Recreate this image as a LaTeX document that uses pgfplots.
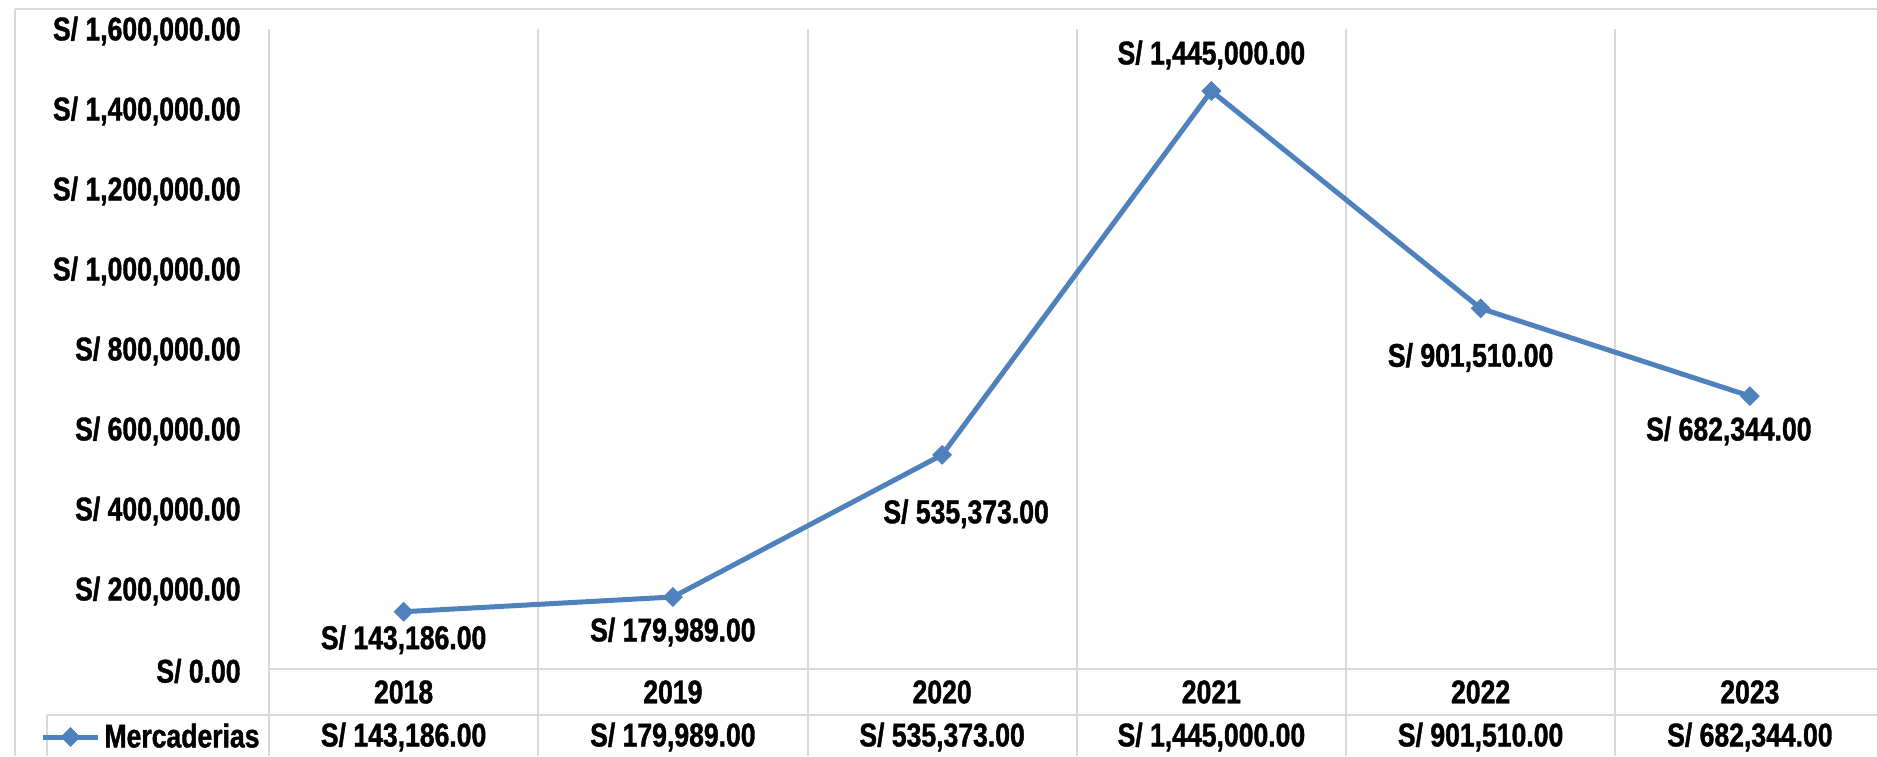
\documentclass[border=0pt]{standalone}
\usepackage{fontspec}
\setmainfont{Liberation Sans Bold}[FakeStretch=0.81, FakeBold=1.2]
\usepackage{pgfplots}
\pgfplotsset{compat=1.18}
\usepackage{pgfplotstable}
\definecolor{serie}{HTML}{4F81BD}
\definecolor{grd}{HTML}{D9D9D9}
\newcommand\cf{\fontsize{16.4}{19}\selectfont}
\pgfplotstableread{
x y dx dy
0.5 143186 0 -14
1.5 179989 0 -17.5
2.5 535373 12 -29.5
3.5 1445000 0 18
4.5 901510 -5 -24.5
5.5 682344 -10.5 -17.5
}\datatab
\begin{document}
\begin{tikzpicture}
\useasboundingbox (0,0) rectangle (938.5pt,378pt);
\clip (0,0) rectangle (938.5pt,378pt);
\begin{scope}[shift={(0pt,378pt)},x=0.5pt,y=-0.5pt]
  \draw[grd,line width=1pt] (15,9) -- (1877,9);
  \draw[grd,line width=1pt] (15,9) -- (15,756);
  \foreach \xx in {269,538.25,807.5,1076.75,1346,1615.25}
    \draw[grd,line width=1pt] (\xx,29) -- (\xx,756);
  \draw[grd,line width=1pt] (269,669) -- (1877,669);
  \draw[grd,line width=1pt] (47,715) -- (1877,715);
  \draw[grd,line width=1pt] (47,715) -- (47,756);
  \node[font=\cf,inner sep=0pt] at (403.6,737) {S/ 143,186.00};
  \node[font=\cf,inner sep=0pt] at (672.9,737) {S/ 179,989.00};
  \node[font=\cf,inner sep=0pt] at (942.1,737) {S/ 535,373.00};
  \node[font=\cf,inner sep=0pt] at (1211.4,737) {S/ 1,445,000.00};
  \node[font=\cf,inner sep=0pt] at (1480.6,737) {S/ 901,510.00};
  \node[font=\cf,inner sep=0pt] at (1749.9,737) {S/ 682,344.00};
\end{scope}
\begin{axis}[
  at={(134.5pt,43.5pt)}, anchor=south west,
  scale only axis, width=807.75pt, height=320pt,
  xmin=0, xmax=6, ymin=0, ymax=1600000,
  axis line style={draw=none}, tick style={draw=none},
  clip=false,
  xtick={0.5,1.5,2.5,3.5,4.5,5.5},
  xticklabels={2018,2019,2020,2021,2022,2023},
  xticklabel style={font=\cf, anchor=center, inner sep=0pt, yshift=-11.5pt},
  ytick={0,200000,400000,600000,800000,1000000,1200000,1400000,1600000},
  yticklabels={{S/ 0.00},{S/ 200,000.00},{S/ 400,000.00},{S/ 600,000.00},{S/ 800,000.00},{S/ 1,000,000.00},{S/ 1,200,000.00},{S/ 1,400,000.00},{S/ 1,600,000.00}},
  yticklabel style={font=\cf, anchor=east, inner sep=0pt, xshift=-14pt, yshift=-1pt},
  scaled y ticks=false,
  legend style={draw=none, fill=none, at={(-0.0056,-0.10625)}, anchor=east, font=\cf, inner sep=0pt, column sep=0pt, nodes={inner sep=0pt}},
  legend image code/.code={\draw[mark repeat=2,mark phase=2,#1] plot coordinates {(0pt,0pt) (13.75pt,0pt) (27.5pt,0pt)};},
]
\addplot[serie, line width=2.5pt, mark=square*, mark size=3.3pt,
  mark options={rotate=45, solid, fill=serie, draw=serie, line width=0.4pt},
  point meta=y,
  visualization depends on={\thisrow{dx}\as\dx},
  visualization depends on={\thisrow{dy}\as\dy},
  nodes near coords={S/ \pgfmathprintnumber[fixed, fixed zerofill, precision=2, 1000 sep={,}, assume math mode=true]{\pgfplotspointmeta}},
  every node near coord/.append style={font=\cf, text=black, anchor=center, inner sep=0pt, xshift=\dx pt, yshift=\dy pt},
] table[x=x,y=y]{\datatab};
\addlegendentry{\hspace{2pt}Mercaderias}
\end{axis}
\end{tikzpicture}
\end{document}
